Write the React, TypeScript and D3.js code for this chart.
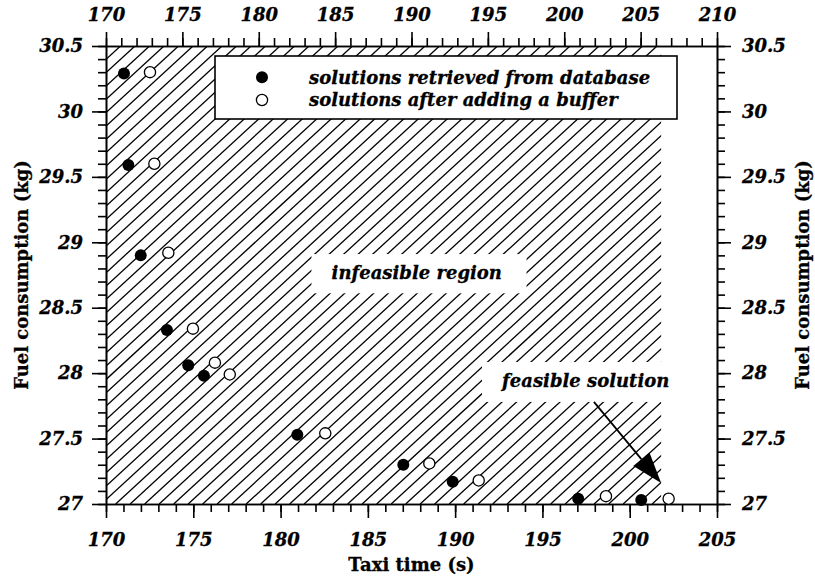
import React, { useEffect, useRef } from 'react';
import * as d3 from 'd3';

// solutions read from the database (filled circles)
const retrievedTime = [171.03, 171.28, 171.99, 173.49, 174.71, 175.61, 180.96, 187.03, 189.86, 197.05, 200.66];
const retrievedFuel = [30.29, 29.59, 28.9, 28.33, 28.06, 27.98, 27.53, 27.3, 27.17, 27.04, 27.03];
// same solutions after the buffer (open circles)
const bufferTime = [172.52, 172.77, 173.57, 174.98, 176.24, 177.09, 182.56, 188.52, 191.35, 198.64, 202.23];
const bufferFuel = [30.3, 29.6, 28.92, 28.34, 28.08, 27.99, 27.54, 27.31, 27.18, 27.06, 27.04];

const bottomTicks = [170, 175, 180, 185, 190, 195, 200, 205];
const topTicks = [170, 175, 180, 185, 190, 195, 200, 205, 210];
const fuelTicks = [27, 27.5, 28, 28.5, 29, 29.5, 30, 30.5];
const legendLabels = ['solutions retrieved from database', 'solutions after adding a buffer'];

// hatched (infeasible) area ends here on the taxi time axis
const hatchEnd = 201.8;

const W = 815;
const H = 580;
const margin = { top: 46, right: 98, bottom: 76, left: 106 };
const innerW = W - margin.left - margin.right;
const innerH = H - margin.top - margin.bottom;
const font = 'DejaVu Serif';

const textStyle = (sel, size, italic = true) =>
  sel
    .style('font-family', font)
    .style('font-weight', 'bold')
    .style('font-style', italic ? 'italic' : 'normal')
    .style('font-size', `${size}px`)
    .attr('fill', '#000')
    .attr('stroke', '#000')
    .attr('stroke-width', 0.3);

const Chart = () => {
  const ref = useRef<SVGGElement>(null);

  useEffect(() => {
    const g = d3.select(ref.current);
    g.selectAll('*').remove();

    const x = d3.scaleLinear().domain([170, 205]).range([0, innerW]);
    const xTop = d3.scaleLinear().domain([170, 210]).range([0, innerW]);
    const y = d3.scaleLinear().domain([27, 30.5]).range([innerH, 0]);

    // hatching
    g.append('defs')
      .append('clipPath')
      .attr('id', 'hatch-clip')
      .append('rect')
      .attr('width', x(hatchEnd))
      .attr('height', innerH);

    const slope = 0.92;
    const step = 14.5;
    const run = innerH / slope;
    g.append('g')
      .attr('clip-path', 'url(#hatch-clip)')
      .selectAll('line')
      .data(d3.range(-run, x(hatchEnd) + step, step))
      .join('line')
      .attr('x1', d => d)
      .attr('y1', innerH)
      .attr('x2', d => d + run)
      .attr('y2', 0)
      .attr('stroke', '#000')
      .attr('stroke-width', 1.3);

    // white boxes behind the notes
    g.append('rect')
      .attr('x', x(181.77))
      .attr('y', y(28.91))
      .attr('width', x(194.09) - x(181.77))
      .attr('height', y(28.61) - y(28.91))
      .attr('fill', '#fff');
    g.append('rect')
      .attr('x', x(191.54))
      .attr('y', y(28.085))
      .attr('width', x(hatchEnd) - x(191.54) + 1)
      .attr('height', y(27.78) - y(28.085))
      .attr('fill', '#fff');

    g.append('text')
      .attr('x', x(187.8))
      .attr('y', y(28.72))
      .attr('text-anchor', 'middle')
      .call(textStyle, 18)
      .text('infeasible region');
    g.append('text')
      .attr('x', x(197.48))
      .attr('y', y(27.894))
      .attr('text-anchor', 'middle')
      .call(textStyle, 18)
      .text('feasible solution');

    // arrow
    const x0 = x(197.95), y0 = y(27.78);
    const x1 = x(hatchEnd), y1 = y(27.16);
    const len = Math.hypot(x1 - x0, y1 - y0);
    const ux = (x1 - x0) / len, uy = (y1 - y0) / len;
    const headL = 31, headW = 10.5;
    const bx = x1 - ux * headL, by = y1 - uy * headL;
    g.append('line')
      .attr('x1', x0)
      .attr('y1', y0)
      .attr('x2', bx)
      .attr('y2', by)
      .attr('stroke', '#000')
      .attr('stroke-width', 1.8);
    g.append('path')
      .attr('d', `M${x1},${y1}L${bx - uy * headW},${by + ux * headW}L${bx + uy * headW},${by - ux * headW}Z`)
      .attr('fill', '#000');

    // axes
    const styleAxis = sel => {
      sel.selectAll('path, line').attr('stroke', '#000').attr('stroke-width', 1.6);
      sel.selectAll('text').call(textStyle, 18);
    };
    const noLabel = () => '';

    g.append('g')
      .attr('transform', `translate(0,${innerH})`)
      .call(d3.axisBottom(x).tickValues(d3.range(170, 206)).tickSize(8).tickSizeOuter(0).tickFormat(noLabel))
      .call(styleAxis);
    g.append('g')
      .attr('transform', `translate(0,${innerH})`)
      .call(d3.axisBottom(x).tickValues(bottomTicks).tickSize(14).tickSizeOuter(0).tickPadding(15))
      .call(styleAxis);

    g.append('g')
      .call(d3.axisTop(xTop).tickValues(d3.range(170, 211)).tickSize(8).tickSizeOuter(0).tickFormat(noLabel))
      .call(styleAxis);
    g.append('g')
      .call(d3.axisTop(xTop).tickValues(topTicks).tickSize(14).tickSizeOuter(0).tickPadding(11))
      .call(styleAxis);

    const fuelMinor = d3.range(270, 306).map(d => d / 10);
    g.append('g')
      .call(d3.axisLeft(y).tickValues(fuelMinor).tickSize(8).tickSizeOuter(0).tickFormat(noLabel))
      .call(styleAxis);
    g.append('g')
      .call(d3.axisLeft(y).tickValues(fuelTicks).tickSize(14).tickSizeOuter(0).tickPadding(9).tickFormat(d => String(d)))
      .call(styleAxis);
    g.append('g')
      .attr('transform', `translate(${innerW},0)`)
      .call(d3.axisRight(y).tickValues(fuelMinor).tickSize(8).tickSizeOuter(0).tickFormat(noLabel))
      .call(styleAxis);
    g.append('g')
      .attr('transform', `translate(${innerW},0)`)
      .call(d3.axisRight(y).tickValues(fuelTicks).tickSize(14).tickSizeOuter(0).tickPadding(11).tickFormat(d => String(d)))
      .call(styleAxis);

    // points
    g.append('g')
      .selectAll('circle')
      .data(retrievedTime)
      .join('circle')
      .attr('cx', d => x(d))
      .attr('cy', (d, i) => y(retrievedFuel[i]))
      .attr('r', 6)
      .attr('fill', '#000');
    g.append('g')
      .selectAll('circle')
      .data(bufferTime)
      .join('circle')
      .attr('cx', d => x(d))
      .attr('cy', (d, i) => y(bufferFuel[i]))
      .attr('r', 5.6)
      .attr('fill', '#fff')
      .attr('stroke', '#000')
      .attr('stroke-width', 1.3);

    // legend
    const legend = g.append('g').attr('transform', 'translate(109,10)');
    legend
      .append('rect')
      .attr('width', 462)
      .attr('height', 63)
      .attr('fill', '#fff')
      .attr('stroke', '#000')
      .attr('stroke-width', 1.6);
    const rows = legend
      .selectAll('g.row')
      .data(legendLabels)
      .join('g')
      .attr('class', 'row')
      .attr('transform', (d, i) => `translate(0,${21.3 + i * 22.7})`);
    rows
      .append('circle')
      .attr('cx', 47)
      .attr('r', (d, i) => (i ? 5.6 : 6))
      .attr('fill', (d, i) => (i ? '#fff' : '#000'))
      .attr('stroke', '#000')
      .attr('stroke-width', (d, i) => (i ? 1.3 : 0));
    rows
      .append('text')
      .attr('x', 94)
      .attr('dy', '0.35em')
      .call(textStyle, 18)
      .text(d => d);

    // axis titles
    g.append('text')
      .attr('x', innerW / 2)
      .attr('y', innerH + 67)
      .attr('text-anchor', 'middle')
      .call(textStyle, 18, false)
      .text('Taxi time (s)');
    [-margin.left + 28, innerW + 92].forEach(tx => {
      g.append('text')
        .attr('transform', `translate(${tx},${innerH / 2}) rotate(-90)`)
        .attr('text-anchor', 'middle')
        .call(textStyle, 18, false)
        .text('Fuel consumption (kg)');
    });
  }, []);

  return (
    <svg width={W} height={H} style={{ position: 'absolute', left: 0, top: 0, background: '#fff' }}>
      <g ref={ref} transform={`translate(${margin.left},${margin.top})`} />
    </svg>
  );
};

export default function App() {
  return <Chart />;
}
